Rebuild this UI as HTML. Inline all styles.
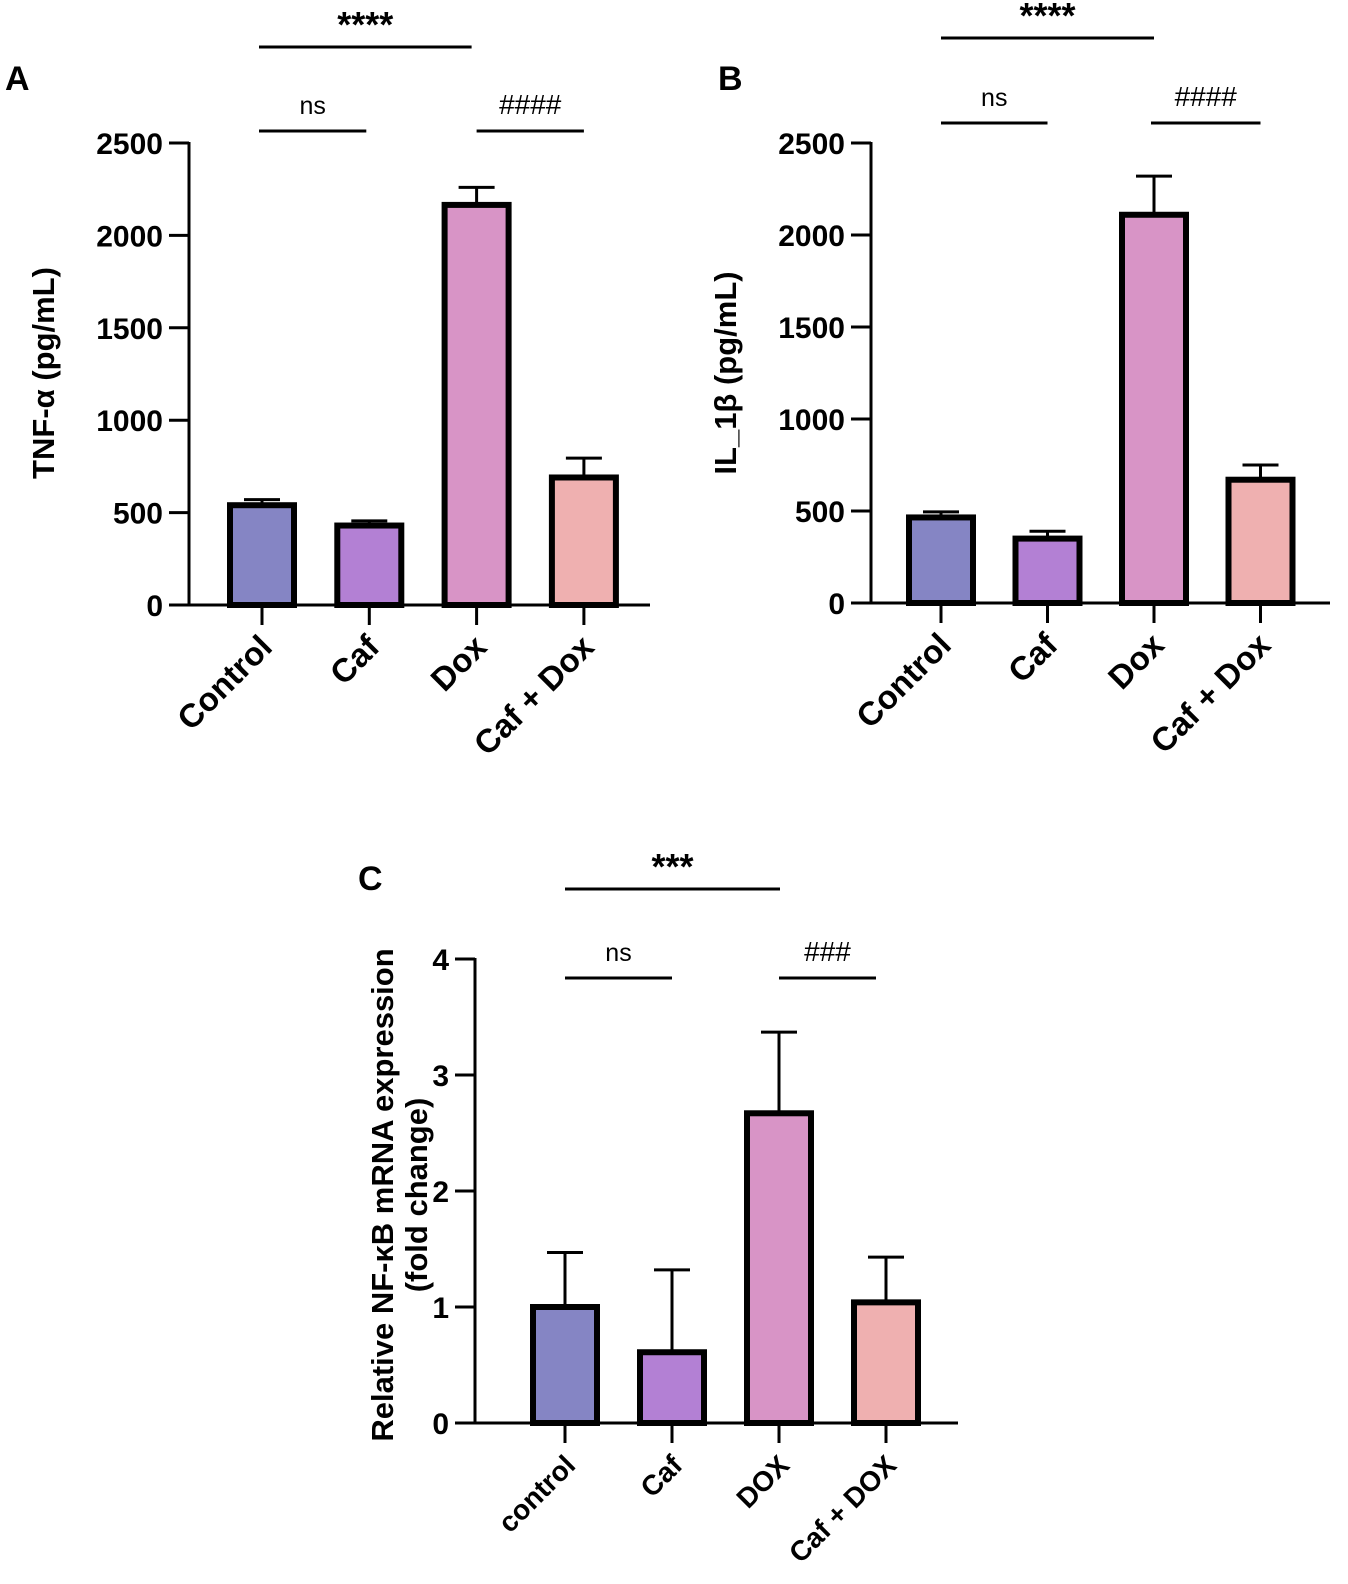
<!DOCTYPE html>
<html><head><meta charset="utf-8"><style>
body{margin:0;background:#fff}
svg{display:block;font-family:"Liberation Sans",Arial,sans-serif}
</style></head><body>
<svg id="fig" width="1348" height="1584" viewBox="0 0 1348 1584" xmlns="http://www.w3.org/2000/svg">
<text x="5" y="90" font-size="34" font-weight="bold">A</text>
<text x="718" y="90" font-size="34" font-weight="bold">B</text>
<text x="358" y="890" font-size="34" font-weight="bold">C</text>
<text transform="translate(54,373) rotate(-90)" text-anchor="middle" font-size="31" font-weight="bold">TNF-α (pg/mL)</text>
<text transform="translate(736,373) rotate(-90)" text-anchor="middle" font-size="31" font-weight="bold">IL_1β (pg/mL)</text>
<text transform="translate(393,1195) rotate(-90)" text-anchor="middle" font-size="31" font-weight="bold">Relative NF-κB mRNA expression</text>
<text transform="translate(427,1195) rotate(-90)" text-anchor="middle" font-size="31" font-weight="bold">(fold change)</text>
</svg>
<script>
const catsA = ["Control","Caf","Dox","Caf + Dox"];
const valsA = [540, 430, 2165, 690];
const errA = [570, 455, 2260, 795];
const ticksA = [0,500,1000,1500,2000,2500];
const catsB = ["Control","Caf","Dox","Caf + Dox"];
const valsB = [465, 350, 2110, 670];
const errB = [495, 390, 2320, 750];
const ticksB = [0,500,1000,1500,2000,2500];
const catsC = ["control","Caf","DOX","Caf + DOX"];
const valsC = [1.0, 0.61, 2.67, 1.04];
const errC = [1.47, 1.32, 3.37, 1.43];
const ticksC = [0,1,2,3,4];
const colors = ["#8585c4","#b380d4","#d894c6","#efb0b0"];
const NS = "http://www.w3.org/2000/svg";
const svg = document.getElementById('fig');
function mk(tag, at, txt){const e=document.createElementNS(NS,tag);for(const k in at)e.setAttribute(k,at[k]);if(txt!==undefined)e.textContent=txt;svg.appendChild(e);return e;}
function panel(p, cats, vals, errs, ticks, id){
  const y=v=>p.y0-(v-ticks[0])/(ticks[ticks.length-1]-ticks[0])*(p.y0-p.y1);
  const x=i=>p.xf+i*p.step;
  let e=mk('line',{x1:p.ax,y1:p.y1-1,x2:p.ax,y2:p.y0,stroke:'#000','stroke-width':3});
  
  
  e=mk('line',{x1:p.ax,y1:p.y0,x2:p.xe,y2:p.y0,stroke:'#000','stroke-width':3});
  
  
  ticks.forEach(t=>{
    mk('line',{x1:p.ax-20,y1:y(t),x2:p.ax,y2:y(t),stroke:'#000','stroke-width':3});
    e=mk('text',{x:p.ax-26,y:y(t)+11,'text-anchor':'end','font-size':30,'font-weight':'bold'},String(t));
    
    
  });
  cats.forEach((c,i)=>{
    const cx=x(i), top=y(vals[i]), et=y(errs[i]);
    mk('line',{x1:cx,y1:top,x2:cx,y2:et,stroke:'#000','stroke-width':3});
    mk('line',{x1:cx-18,y1:et,x2:cx+18,y2:et,stroke:'#000','stroke-width':3});
    e=mk('rect',{x:cx-32,y:top,width:64,height:p.y0-top,fill:colors[i],stroke:'#000','stroke-width':6});
    
    
    mk('line',{x1:cx,y1:p.y0,x2:cx,y2:p.y0+20,stroke:'#000','stroke-width':3});
    e=mk('text',{transform:`translate(${cx+12},${p.y0+44}) rotate(-45)`,'text-anchor':'end','font-size':p.lfs,'font-weight':'bold'},c);
    
    
  });
  p.sig.forEach(s=>{
    const a=x(s[0])+(s[4]||0), b=x(s[1])+(s[5]||0);
    mk('line',{x1:a,y1:s[2],x2:b,y2:s[2],stroke:'#000','stroke-width':3});
    const big=s[3].startsWith('*'), hash=s[3].startsWith('#');
    e=mk('text',{x:(a+b)/2,y:s[2]-(big?10:17),'text-anchor':'middle','font-size':big?36:(hash?28:25),'font-weight':big?'bold':'normal'},s[3]);
    
    
  });
}
panel({ax:189,y0:605,y1:143,xf:262,step:107.3,xe:650,lfs:33,sig:[[0,2,47,'****',-3,-5],[0,1,131,'ns',-3,-3],[2,3,131,'####',0,0]]},catsA,valsA,errA,ticksA,'panel-a');
panel({ax:871,y0:603,y1:143,xf:941,step:106.5,xe:1330,lfs:33,sig:[[0,2,38,'****',0,0],[0,1,123,'ns',0,0],[2,3,123,'####',-3,0]]},catsB,valsB,errB,ticksB,'panel-b');
panel({ax:475,y0:1423,y1:959,xf:565,step:107,xe:958,lfs:28,sig:[[0,2,889,'***',0,1],[0,1,978,'ns',0,0],[2,3,978,'###',0,-10]]},catsC,valsC,errC,ticksC,'panel-c');
</script>
</body></html>
